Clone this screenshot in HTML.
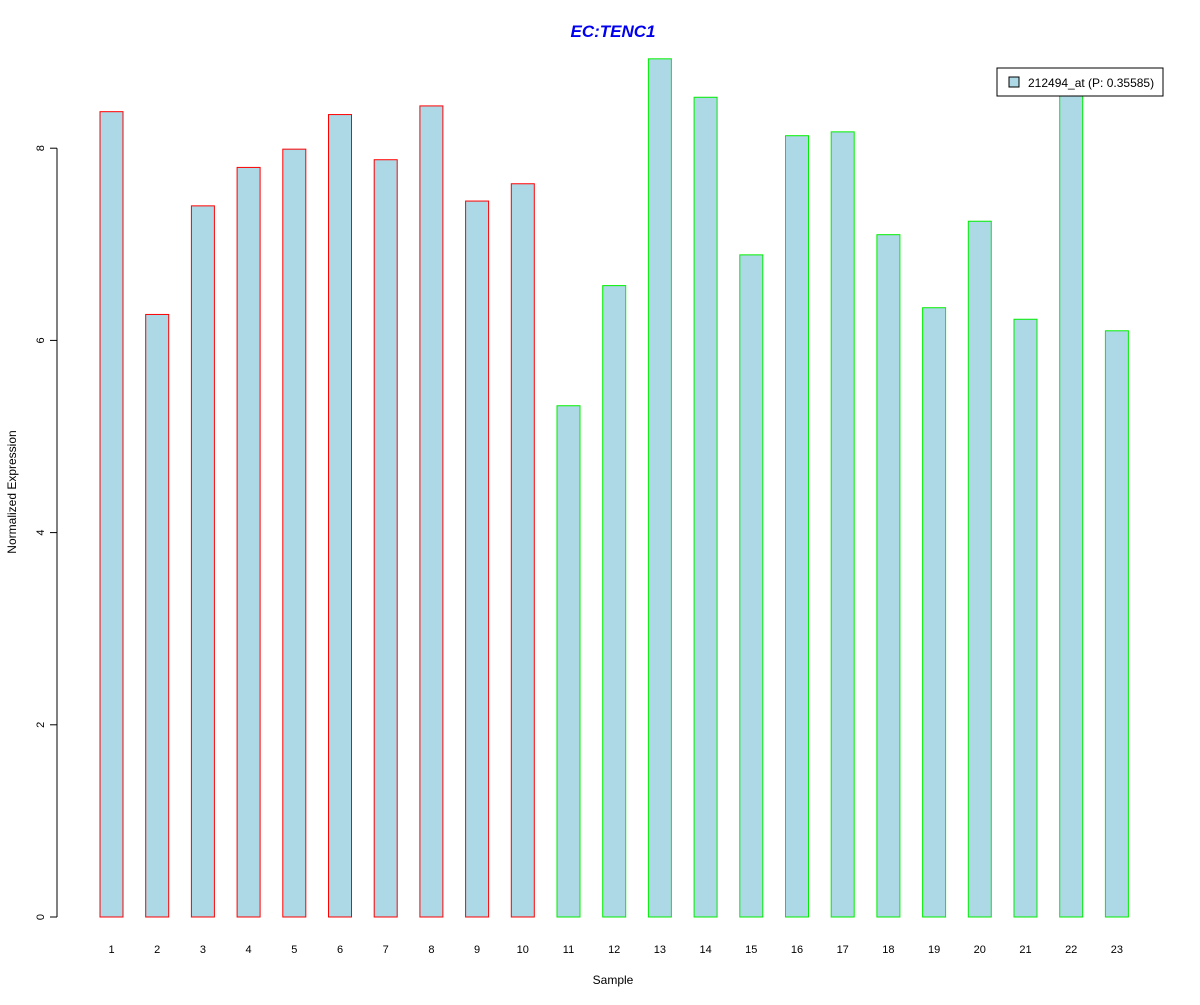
<!DOCTYPE html>
<html><head><meta charset="utf-8"><style>
body{margin:0;background:#fff}
svg{font-family:"Liberation Sans",Arial,sans-serif}
</style></head><body>
<svg id="chart" width="1200" height="1000" xmlns="http://www.w3.org/2000/svg">
<rect width="1200" height="1000" fill="#fff"/>
<text x="613" y="37" text-anchor="middle" font-size="17" font-weight="bold" font-style="italic" fill="#0000ee">EC:TENC1</text>
<text x="613" y="984" text-anchor="middle" font-size="12">Sample</text>
<text transform="translate(16,492) rotate(-90)" text-anchor="middle" font-size="12">Normalized Expression</text>
<g id="bars"></g>
<g id="yaxis"></g>
<g id="xlabels"></g>
<g>
<rect x="997" y="68" width="166" height="28" fill="#fff" stroke="#000"/>
<rect x="1009" y="77" width="10" height="10" fill="#add8e6" stroke="#000"/>
<text x="1028" y="87" font-size="12">212494_at (P: 0.35585)</text>
</g>
</svg>
<script>
const categories=["1","2","3","4","5","6","7","8","9","10","11","12","13","14","15","16","17","18","19","20","21","22","23"];
const values=[8.38,6.27,7.40,7.80,7.99,8.35,7.88,8.44,7.45,7.63,5.32,6.57,8.93,8.53,6.89,8.13,8.17,7.10,6.34,7.24,6.22,8.6,6.10];
const groups=["a","a","a","a","a","a","a","a","a","a","b","b","b","b","b","b","b","b","b","b","b","b","b"];
const yTicks=[0,2,4,6,8];
const NS="http://www.w3.org/2000/svg";
const y=v=>917-v*96.1;
const xc=i=>111.5+i*45.7;
const bw=23;
const bars=document.getElementById('bars');
const xl=document.getElementById('xlabels');
values.forEach((v,i)=>{
 const r=document.createElementNS(NS,'rect');
 r.setAttribute('x',xc(i)-bw/2);r.setAttribute('y',y(v));
 r.setAttribute('width',bw);r.setAttribute('height',y(0)-y(v));
 r.setAttribute('fill','#add8e6');r.setAttribute('stroke',groups[i]==='a'?'#ff0000':'#00ee00');
 
 
 bars.appendChild(r);
 const t=document.createElementNS(NS,'text');
 t.setAttribute('x',xc(i));t.setAttribute('y',953);t.setAttribute('text-anchor','middle');t.setAttribute('font-size','11');
 t.textContent=categories[i];
 
 
 xl.appendChild(t);
});
const ya=document.getElementById('yaxis');
const ax=document.createElementNS(NS,'line');
ax.setAttribute('x1',57);ax.setAttribute('x2',57);ax.setAttribute('y1',y(8));ax.setAttribute('y2',y(0));ax.setAttribute('stroke','#000');


ya.appendChild(ax);
yTicks.forEach(v=>{
 const l=document.createElementNS(NS,'line');
 l.setAttribute('x1',50);l.setAttribute('x2',57);l.setAttribute('y1',y(v));l.setAttribute('y2',y(v));l.setAttribute('stroke','#000');
 
 
 ya.appendChild(l);
 const t=document.createElementNS(NS,'text');
 t.setAttribute('transform','translate(44,'+y(v)+') rotate(-90)');t.setAttribute('text-anchor','middle');t.setAttribute('font-size','11');
 t.textContent=v;
 
 
 ya.appendChild(t);
});
</script>
</body></html>
